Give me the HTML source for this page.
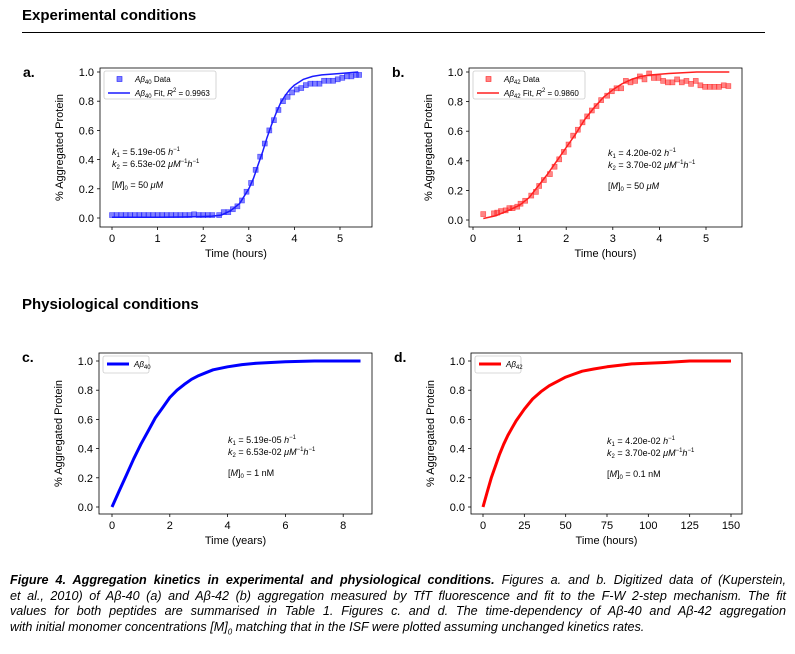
<!DOCTYPE html>
<html><head><meta charset="utf-8"><style>
body{margin:0;width:795px;height:654px;background:#fff;font-family:"Liberation Sans",sans-serif;position:relative;overflow:hidden}
.h{position:absolute;left:22px;font-weight:bold;font-size:15px;color:#000}
.cap{position:absolute;left:10px;width:776px;font-style:italic;font-size:12.6px;line-height:15.5px;text-align:justify;text-align-last:justify;white-space:nowrap}
svg{position:absolute;left:0;top:0}
</style></head><body>
<div class="h" style="top:7px">Experimental conditions</div>
<div style="position:absolute;left:22px;top:32px;width:743px;height:1px;background:#000"></div>
<div class="h" style="top:296px">Physiological conditions</div>
<div>
<div class="cap" style="top:573px"><b>Figure 4. Aggregation kinetics in experimental and physiological conditions.</b> Figures a. and b. Digitized data of (Kuperstein,</div>
<div class="cap" style="top:588.5px">et al., 2010) of Aβ-40 (a) and Aβ-42 (b) aggregation measured by TfT fluorescence and fit to the F-W 2-step mechanism. The fit</div>
<div class="cap" style="top:604px">values for both peptides are summarised in Table 1. Figures c. and d. The time-dependency of Aβ-40 and Aβ-42 aggregation</div>
<div class="cap" style="top:619.5px;text-align-last:left">with initial monomer concentrations [<i>M</i>]<sub style="font-size:8px">0</sub> matching that in the ISF were plotted assuming unchanged kinetics rates.</div>
</div>
<svg id="s" width="795" height="654" font-family="Liberation Sans, sans-serif"></svg>
<script>
// Panel a
const aDataT=[0,0.1,0.2,0.3,0.4,0.5,0.6,0.7,0.8,0.9,1.0,1.1,1.2,1.3,1.4,1.5,1.6,1.7,1.8,1.9,2.0,2.1,2.2,2.35,2.45,2.55,2.65,2.75,2.85,2.95,3.05,3.15,3.25,3.35,3.45,3.55,3.65,3.75,3.85,3.95,4.05,4.15,4.25,4.35,4.45,4.55,4.65,4.75,4.85,4.95,5.05,5.15,5.25,5.35,5.42];
const aDataY=[0.02,0.02,0.02,0.02,0.02,0.02,0.02,0.02,0.02,0.02,0.02,0.02,0.02,0.02,0.02,0.02,0.02,0.02,0.025,0.02,0.02,0.02,0.02,0.02,0.04,0.04,0.06,0.08,0.12,0.18,0.24,0.33,0.42,0.51,0.60,0.67,0.74,0.80,0.83,0.86,0.88,0.89,0.91,0.92,0.92,0.92,0.94,0.94,0.94,0.95,0.96,0.97,0.97,0.98,0.98];
const aFitT=[0,0.5,1.0,1.5,2.0,2.2,2.4,2.6,2.8,3.0,3.1,3.2,3.3,3.4,3.5,3.6,3.7,3.8,3.9,4.0,4.2,4.4,4.6,5.0,5.4];
const aFitY=[0.005,0.005,0.005,0.007,0.01,0.013,0.02,0.05,0.1,0.2,0.27,0.36,0.45,0.55,0.64,0.72,0.79,0.84,0.88,0.91,0.95,0.97,0.98,0.99,1.0];
// Panel b
const bDataT=[0.22,0.45,0.52,0.6,0.7,0.78,0.85,0.95,1.02,1.12,1.25,1.35,1.42,1.52,1.65,1.75,1.85,1.95,2.05,2.15,2.25,2.35,2.45,2.55,2.65,2.75,2.88,2.98,3.08,3.18,3.28,3.38,3.48,3.58,3.68,3.78,3.88,3.98,4.08,4.18,4.28,4.38,4.48,4.58,4.68,4.78,4.88,4.98,5.08,5.18,5.28,5.38,5.48];
const bDataY=[0.04,0.045,0.05,0.06,0.065,0.08,0.08,0.09,0.11,0.13,0.165,0.19,0.23,0.27,0.31,0.36,0.41,0.46,0.51,0.57,0.61,0.66,0.70,0.74,0.77,0.81,0.84,0.87,0.89,0.89,0.94,0.93,0.94,0.97,0.95,0.99,0.96,0.96,0.94,0.93,0.93,0.95,0.93,0.94,0.92,0.94,0.91,0.90,0.90,0.90,0.90,0.91,0.905];
const bFitT=[0.22,0.5,0.8,1.0,1.2,1.4,1.6,1.8,2.0,2.2,2.4,2.6,2.8,3.0,3.2,3.4,3.6,3.8,4.2,4.8,5.5];
const bFitY=[0.01,0.03,0.07,0.10,0.15,0.23,0.31,0.40,0.49,0.58,0.68,0.76,0.83,0.88,0.92,0.95,0.97,0.98,0.99,1.0,1.0];
// Panel c
const cT=[0,0.25,0.5,0.75,1,1.25,1.5,1.75,2,2.25,2.5,2.75,3,3.25,3.5,4,4.5,5,6,7,8.6];
const cY=[0,0.11,0.22,0.33,0.43,0.52,0.61,0.68,0.75,0.80,0.84,0.875,0.90,0.92,0.94,0.96,0.975,0.985,0.995,1.0,1.0];
// Panel d
const dT=[0,2.5,5,7.5,10,12.5,15,17.5,20,25,30,35,40,45,50,55,60,67,75,90,110,125,150];
const dY=[0,0.1,0.2,0.28,0.36,0.43,0.49,0.54,0.59,0.67,0.74,0.79,0.83,0.86,0.89,0.91,0.93,0.945,0.96,0.98,0.99,1.0,1.0];
const yTicks=[0,0.2,0.4,0.6,0.8,1.0];
const abXTicks=[0,1,2,3,4,5];
const cXTicks=[0,2,4,6,8];
const dXTicks=[0,25,50,75,100,125,150];

const S=document.getElementById('s');
const NS='http://www.w3.org/2000/svg';
function el(tag,attrs,parent){const e=document.createElementNS(NS,tag);for(const k in attrs)e.setAttribute(k,attrs[k]);(parent||S).appendChild(e);return e;}
function txt(s,x,y,attrs,parent){const e=el('text',Object.assign({x:x,y:y,'font-size':11},attrs),parent);e.innerHTML=s;return e;}

function panel(p){
  const g=el('g',{});
  
  
  const sx=v=>p.x0+(v)*p.kx, sy=v=>p.y0-(v)*(p.y0-p.y1);
  yTicks.forEach(v=>{const y=sy(v);
    const t=el('line',{x1:p.L-3,x2:p.L,y1:y,y2:y,stroke:'#000','stroke-width':0.8},g);
    
    const l=txt(v.toFixed(1),p.L-6,y+4,{'text-anchor':'end'},g);
    });
  p.xt.forEach(v=>{const x=sx(v);
    const t=el('line',{x1:x,x2:x,y1:p.B,y2:p.B+3,stroke:'#000','stroke-width':0.8},g);
    
    const l=txt(String(v),x,p.B+15,{'text-anchor':'middle'},g);
    });
  const xl=txt(p.xlabel,(p.L+p.R)/2,p.B+30,{'text-anchor':'middle'},g);
  
  const yc=(p.T+p.B)/2;
  const yl=txt('% Aggregated Protein',p.L-37,yc,{'text-anchor':'middle',transform:`rotate(-90 ${p.L-37} ${yc})`},g);
  
  const pl=txt(p.letter,p.L-77,p.T+9,{'font-weight':'bold','font-size':14},g);
  
  if(p.dT){p.dT.forEach((t,i)=>{
    const r=el('rect',{x:sx(t)-2.5,y:sy(p.dY[i])-2.5,width:5,height:5,fill:p.col,'fill-opacity':0.55,stroke:p.col,'stroke-opacity':0.7,'stroke-width':0.6},g);
    });}
  const pts=p.fT.map((t,i)=>sx(t).toFixed(1)+','+sy(p.fY[i]).toFixed(1)).join(' ');
  const ln=el('polyline',{points:pts,fill:'none',stroke:p.col,'stroke-width':p.lw,'stroke-linejoin':'round'},g);
  
  const fr=el('rect',{x:p.L,y:p.T,width:p.R-p.L,height:p.B-p.T,fill:'none',stroke:'#000','stroke-width':0.8},g);
  
  const lg=el('g',{},g);
  
  el('rect',{x:p.L+4,y:p.T+3,width:p.lgW,height:p.lgH,fill:'#fff',stroke:'#ccc','stroke-width':0.8,rx:2},lg);
  p.lg.forEach((e,i)=>{const y=p.T+11+i*14;
    if(e.m) el('rect',{x:p.L+17,y:y-2.5,width:5,height:5,fill:p.col,'fill-opacity':0.55,stroke:p.col,'stroke-width':0.6},lg);
    else el('line',{x1:p.L+8,x2:p.L+30,y1:y,y2:y,stroke:p.col,'stroke-width':p.lw},lg);
    txt(e.t,p.L+35,y+3,{'font-size':8},lg);});
  const an=el('g',{},g);
  
  txt(`<tspan font-style="italic">k</tspan><tspan font-size="6" dy="2">1</tspan><tspan dy="-2"> = ${p.k1} </tspan><tspan font-style="italic">h</tspan><tspan font-size="6" dy="-4">−1</tspan>`,p.ax,p.ay,{'font-size':9},an);
  txt(`<tspan font-style="italic">k</tspan><tspan font-size="6" dy="2">2</tspan><tspan dy="-2"> = ${p.k2} </tspan><tspan font-style="italic">μM</tspan><tspan font-size="6" dy="-4">−1</tspan><tspan dy="4" font-style="italic">h</tspan><tspan font-size="6" dy="-4">−1</tspan>`,p.ax,p.ay+12,{'font-size':9},an);
  txt(`[<tspan font-style="italic">M</tspan>]<tspan font-size="6" dy="2">0</tspan><tspan dy="-2"> = ${p.m0}</tspan>`,p.ax,p.ay+33,{'font-size':9},an);
}
const b40='<tspan font-style="italic">Aβ</tspan><tspan font-size="6" dy="2">40</tspan><tspan dy="-2">',b42='<tspan font-style="italic">Aβ</tspan><tspan font-size="6" dy="2">42</tspan><tspan dy="-2">';
panel({name:'panel-a-chart',letter:'a.',L:100,R:372,T:68,B:227,x0:112,kx:45.6,y0:218,y1:72,xt:abXTicks,xlabel:'Time (hours)',col:'#1a1aff',lw:1.5,
 dT:aDataT,dY:aDataY,fT:aFitT,fY:aFitY,lgW:112,lgH:28,lg:[{m:1,t:b40+' Data</tspan>'},{t:b40+' Fit, <tspan font-style="italic">R</tspan><tspan font-size="6" dy="-4">2</tspan><tspan dy="4"> =  0.9963</tspan></tspan>'}],
 ax:112,ay:155,k1:'5.19e-05',k2:'6.53e-02',m0:'50 <tspan font-style="italic">μM</tspan>'});
panel({name:'panel-b-chart',letter:'b.',L:469,R:742,T:68,B:227,x0:473,kx:46.6,y0:220,y1:72,xt:abXTicks,xlabel:'Time (hours)',col:'#ff2020',lw:1.5,
 dT:bDataT,dY:bDataY,fT:bFitT,fY:bFitY,lgW:112,lgH:28,lg:[{m:1,t:b42+' Data</tspan>'},{t:b42+' Fit, <tspan font-style="italic">R</tspan><tspan font-size="6" dy="-4">2</tspan><tspan dy="4"> =  0.9860</tspan></tspan>'}],
 ax:608,ay:156,k1:'4.20e-02',k2:'3.70e-02',m0:'50 <tspan font-style="italic">μM</tspan>'});
panel({name:'panel-c-chart',letter:'c.',L:99,R:372,T:353,B:514,x0:112,kx:28.9,y0:507,y1:361,xt:cXTicks,xlabel:'Time (years)',col:'#0000ff',lw:3,
 fT:cT,fY:cY,lgW:46,lgH:17,lg:[{t:b40+'</tspan>'}],
 ax:228,ay:443,k1:'5.19e-05',k2:'6.53e-02',m0:'1 nM'});
panel({name:'panel-d-chart',letter:'d.',L:471,R:742,T:353,B:514,x0:483,kx:248/150,y0:507,y1:361,xt:dXTicks,xlabel:'Time (hours)',col:'#ff0000',lw:3,
 fT:dT,fY:dY,lgW:46,lgH:17,lg:[{t:b42+'</tspan>'}],
 ax:607,ay:444,k1:'4.20e-02',k2:'3.70e-02',m0:'0.1 nM'});
</script>
</body></html>
